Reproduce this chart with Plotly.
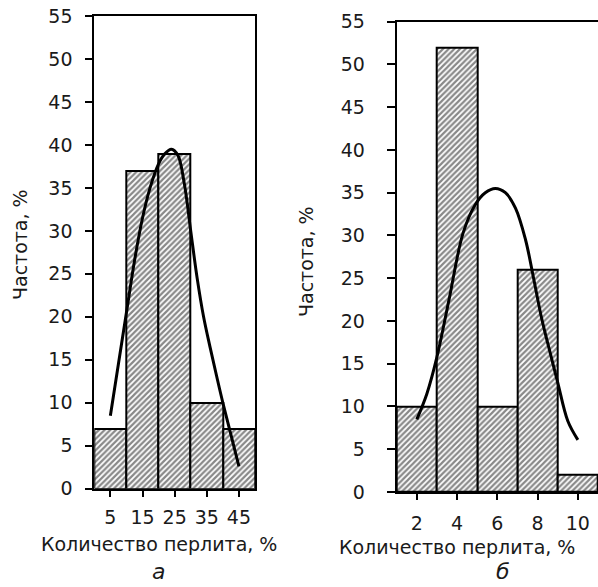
import plotly.graph_objects as go

# Panel a
a_bins = [5, 15, 25, 35, 45]
a_freq = [7, 37, 39, 10, 7]
a_curve_x = [5, 7.5, 10, 12.5, 15, 17.5, 20, 22, 24, 26, 28, 30, 32, 34, 36, 38, 40, 42.5, 45]
a_curve_y = [8.5, 14.5, 20.5, 26.5, 31.5, 35.2, 37.8, 39.0, 39.5, 38.8, 35.5, 30.0, 24.5, 20.0, 16.5, 13.2, 10.0, 6.3, 2.6]

# Panel б
b_bins = [2, 4, 6, 8, 10]
b_freq = [10, 52, 10, 26, 2]
b_curve_x = [2, 2.5, 3, 3.6, 4.3, 4.9, 5.4, 5.9, 6.4, 6.9, 7.4, 7.8, 8.2, 8.6, 9.0, 9.5, 10.0]
b_curve_y = [8.5, 11.5, 15.8, 22.5, 30.3, 33.6, 35.0, 35.5, 35.0, 33.2, 29.5, 25.0, 20.3, 16.5, 12.8, 8.3, 6.1]

y_ticks = [0, 5, 10, 15, 20, 25, 30, 35, 40, 45, 50, 55]
a_ticks = [5, 15, 25, 35, 45]
b_ticks = [2, 4, 6, 8, 10]

FONT = "DejaVu Sans, Liberation Sans, Arial, sans-serif"
TXT = "#1a1a1a"

W, H = 598, 587

def px_x(p):
    return p / W

def px_y(p):
    return 1 - p / H

bar_marker = dict(
    color="white",
    line=dict(color="black", width=2),
    pattern=dict(shape="/", fgcolor="#111", bgcolor="white", size=4, solidity=0.55),
)

fig = go.Figure()
fig.add_trace(go.Bar(x=a_bins, y=a_freq, width=10, marker=bar_marker,
                     xaxis="x", yaxis="y", showlegend=False))
fig.add_trace(go.Scatter(x=a_curve_x, y=a_curve_y, mode="lines",
                         line=dict(color="black", width=3, shape="spline"),
                         xaxis="x", yaxis="y", showlegend=False))
fig.add_trace(go.Bar(x=b_bins, y=b_freq, width=2, marker=bar_marker,
                     xaxis="x2", yaxis="y2", showlegend=False))
fig.add_trace(go.Scatter(x=b_curve_x, y=b_curve_y, mode="lines",
                         line=dict(color="black", width=3, shape="spline"),
                         xaxis="x2", yaxis="y2", showlegend=False))

tickfont = dict(family=FONT, size=19, color=TXT)

common_x = dict(showgrid=False, zeroline=False, showline=True, linecolor="black", linewidth=2,
                ticks="outside", ticklen=6, tickwidth=2, tickcolor="black",
                tickfont=tickfont, mirror=True, fixedrange=True)
common_y = dict(showgrid=False, zeroline=False, showline=True, linecolor="black", linewidth=2,
                ticks="outside", tickwidth=2, tickcolor="black",
                tickfont=tickfont, tickvals=y_ticks, range=[0, 55], fixedrange=True)

fig.update_layout(
    width=W, height=H,
    margin=dict(l=0, r=0, t=0, b=0, autoexpand=False),
    paper_bgcolor="white", plot_bgcolor="white",
    bargap=0,
    xaxis=dict(common_x, domain=[px_x(94.3), px_x(255)], range=[0, 50], tickvals=a_ticks,
               anchor="y", ticklabelstandoff=4),
    yaxis=dict(common_y, domain=[px_y(488.7), px_y(16)], anchor="x", mirror=True,
               ticklen=7, ticklabelstandoff=9),
    xaxis2=dict(common_x, domain=[px_x(396.7), 1.0], range=[1, 11], tickvals=b_ticks,
                anchor="y2", ticklabelstandoff=7),
    yaxis2=dict(common_y, domain=[px_y(492), px_y(21.7)], anchor="x2", mirror=False,
                ticklen=8, ticklabelstandoff=18),
)

title_font = dict(family=FONT, size=19, color=TXT)
ann = [
    dict(text="Частота, %", x=px_x(20), y=px_y(245), textangle=-90, yanchor="middle"),
    dict(text="Частота, %", x=px_x(306), y=px_y(262), textangle=-90, yanchor="middle"),
    dict(text="Количество перлита, %", x=px_x(159), y=px_y(544), yanchor="middle"),
    dict(text="Количество перлита, %", x=px_x(457), y=px_y(547), yanchor="middle"),
    dict(text="<i>а</i>", x=px_x(158), y=px_y(586), size=22, yanchor="bottom"),
    dict(text="<i>б</i>", x=px_x(503), y=px_y(586), size=22, yanchor="bottom"),
]
for a in ann:
    f = dict(title_font)
    if "size" in a:
        f["size"] = a.pop("size")
    fig.add_annotation(xref="paper", yref="paper", xanchor="center",
                       showarrow=False, font=f, **a)

fig.write_html(
    "out.html",
    config={"displayModeBar": False},
    post_script="document.body.style.margin='0';document.body.style.overflow='hidden';",
)
